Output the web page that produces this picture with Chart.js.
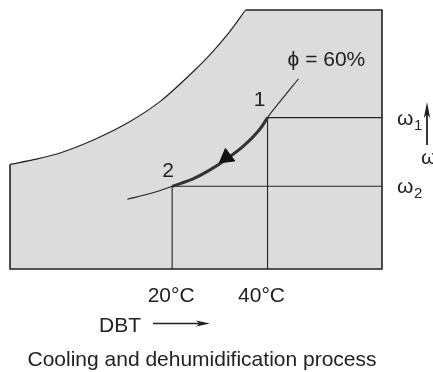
<!DOCTYPE html>
<html>
<head>
<meta charset="utf-8">
<script src="https://cdn.jsdelivr.net/npm/chart.js@4"></script>
<style>
  body { margin: 0; background: #fff; }
  #wrap { width: 433px; height: 372px; }
</style>
</head>
<body>
<div id="wrap"><canvas id="myChart" width="433" height="372"></canvas></div>
<script>
// saturation line (upper boundary of the chart), DBT in °C vs humidity ratio
const satT = [-14, -8.8, -3.2, 3.7, 10.8, 17.7, 24.6, 28.1, 31.7, 35.4];
const satW = [10.5, 11.0, 11.7, 13.0, 14.7, 16.9, 19.9, 21.6, 23.6, 26.0];

// phi = 60% line
const phiT = [10.6, 15.6, 20, 24.6, 28.1, 31.6, 35.1, 38.5, 40, 43.1, 46.5];
const phiW = [7.0, 7.6, 8.3, 9.1, 10.0, 11.1, 12.4, 14.1, 15.2, 17.1, 19.1];

// state points 1 and 2
const stateNames = ['1', '2'];
const stateT = [40, 20];
const stateW = [15.2, 8.3];

// arrow head on the process line
const arrowT = [31.4];
const arrowW = [11.2];

// axis ranges
const xRange = [-14, 64];
const yRange = [0, 26];

// texts
const tickLabels = ['40°C', '20°C'];
const omegaLabels = ['1', '2'];
const curveLabel = 'ϕ = 60%';
const xTitle = 'DBT';
const yTitle = 'ω';
const caption = 'Cooling and dehumidification process';

const FONT = '"Liberation Sans", Arial, sans-serif';
const INK = '#222';
const FILL = '#dcdcdc';

const pts = (xs, ys) => xs.map((x, i) => ({x: x, y: ys[i]}));
const topW = yRange[1];
const process = pts(phiT, phiW).filter(p => p.x >= stateT[1] && p.x <= stateT[0]);

let datasets = [];

// gray chart field
datasets.push({
  data: [{x: xRange[0], y: topW}, {x: xRange[1], y: topW}],
  fill: 'origin', backgroundColor: FILL,
  borderWidth: 0, pointRadius: 0, order: 20
});
// saturation line, white above it
datasets.push({
  data: pts(satT, satW),
  fill: 'end', backgroundColor: '#fff',
  borderColor: INK, borderWidth: 1.2,
  cubicInterpolationMode: 'monotone',
  pointRadius: 0, order: 15, clip: false
});
// frame: left, bottom, right, top
datasets.push({
  data: [{x: xRange[0], y: satW[0]}, {x: xRange[0], y: yRange[0]}, {x: xRange[1], y: yRange[0]}, {x: xRange[1], y: topW}, {x: satT[satT.length - 1], y: topW}],
  borderColor: INK, borderWidth: 1.6, fill: false,
  pointRadius: 0, order: 5, clip: false
});
// constant omega and DBT lines through the states
stateT.forEach((t, i) => {
  datasets.push({
    data: [{x: xRange[1], y: stateW[i]}, {x: t, y: stateW[i]}, {x: t, y: yRange[0]}],
    borderColor: INK, borderWidth: 1.1, fill: false,
    pointRadius: 0, order: 6, clip: false
  });
});
// phi = 60% line
datasets.push({
  data: pts(phiT, phiW),
  borderColor: INK, borderWidth: 1.1, fill: false,
  cubicInterpolationMode: 'monotone',
  pointRadius: 0, order: 4, clip: false
});
// process 1 -> 2
datasets.push({
  data: process,
  borderColor: '#333', borderWidth: 3, fill: false,
  cubicInterpolationMode: 'monotone',
  pointRadius: 0, order: 3, clip: false
});
// arrow head
datasets.push({
  data: pts(arrowT, arrowW),
  showLine: false,
  pointStyle: 'triangle', pointRadius: 9, rotation: -7,
  backgroundColor: '#111', borderColor: '#111', borderWidth: 1,
  order: 1, clip: false
});

function arrow(ctx, x1, y1, x2, y2, len, half) {
  let a = Math.atan2(y2 - y1, x2 - x1);
  ctx.beginPath();
  ctx.moveTo(x1, y1);
  ctx.lineTo(x2 - Math.cos(a) * len * 0.6, y2 - Math.sin(a) * len * 0.6);
  ctx.stroke();
  ctx.beginPath();
  ctx.moveTo(x2, y2);
  ctx.lineTo(x2 - Math.cos(a) * len - Math.sin(a) * half, y2 - Math.sin(a) * len + Math.cos(a) * half);
  ctx.lineTo(x2 - Math.cos(a) * len * 0.75, y2 - Math.sin(a) * len * 0.75);
  ctx.lineTo(x2 - Math.cos(a) * len + Math.sin(a) * half, y2 - Math.sin(a) * len - Math.cos(a) * half);
  ctx.closePath();
  ctx.fill();
}

const labelsPlugin = {
  id: 'labels',
  afterDatasetsDraw(chart) {
    const ctx = chart.ctx;
    const xs = chart.scales.x, ys = chart.scales.y;
    const area = chart.chartArea;
    ctx.save();
    ctx.fillStyle = INK;
    ctx.strokeStyle = INK;
    ctx.lineWidth = 1.2;
    ctx.textBaseline = 'alphabetic';
    ctx.font = '21px ' + FONT;

    // state numbers
    ctx.textAlign = 'center';
    const stOff = [[-8, -12], [-4, -9]];
    stateNames.forEach((s, i) => {
      ctx.fillText(s, xs.getPixelForValue(stateT[i]) + stOff[i][0], ys.getPixelForValue(stateW[i]) + stOff[i][1]);
    });

    // phi label
    ctx.textAlign = 'left';
    ctx.fillText(curveLabel, xs.getPixelForValue(phiT[phiT.length - 1]) - 11, 66);

    // DBT tick labels
    ctx.textAlign = 'center';
    const tkOff = [-6, -1];
    stateT.forEach((t, i) => {
      ctx.fillText(tickLabels[i], xs.getPixelForValue(t) + tkOff[i], area.bottom + 33);
    });

    // omega labels on the right
    ctx.textAlign = 'left';
    const omOff = [7, 7];
    stateW.forEach((w, i) => {
      const y = ys.getPixelForValue(w) + omOff[i];
      ctx.font = '21px ' + FONT;
      ctx.fillText(yTitle, area.right + 15, y);
      ctx.font = '15px ' + FONT;
      ctx.fillText(omegaLabels[i], area.right + 32, y + 5);
    });

    // omega axis arrow + label
    ctx.font = '21px ' + FONT;
    ctx.lineWidth = 1.8;
    arrow(ctx, 427, 145, 427, 102, 16, 3.2);
    ctx.fillText(yTitle, 421, 164);

    // DBT title + arrow
    ctx.lineWidth = 1.3;
    ctx.textAlign = 'center';
    ctx.fillText(xTitle, 120, 332);
    arrow(ctx, 153, 323.5, 210, 323.5, 14, 3);

    // caption
    ctx.fillText(caption, 202, 366);
    ctx.restore();
  }
};

new Chart(document.getElementById('myChart'), {
  type: 'scatter',
  data: { datasets: datasets },
  options: {
    responsive: false,
    animation: false,
    devicePixelRatio: 1,
    showLine: true,
    layout: { padding: { left: 8, top: 9, right: 51, bottom: 103 } },
    scales: {
      x: { type: 'linear', min: xRange[0], max: xRange[1], display: false },
      y: { type: 'linear', min: yRange[0], max: yRange[1], display: false }
    },
    plugins: {
      legend: { display: false },
      tooltip: { enabled: false }
    }
  },
  plugins: [labelsPlugin]
});
</script>
</body>
</html>
